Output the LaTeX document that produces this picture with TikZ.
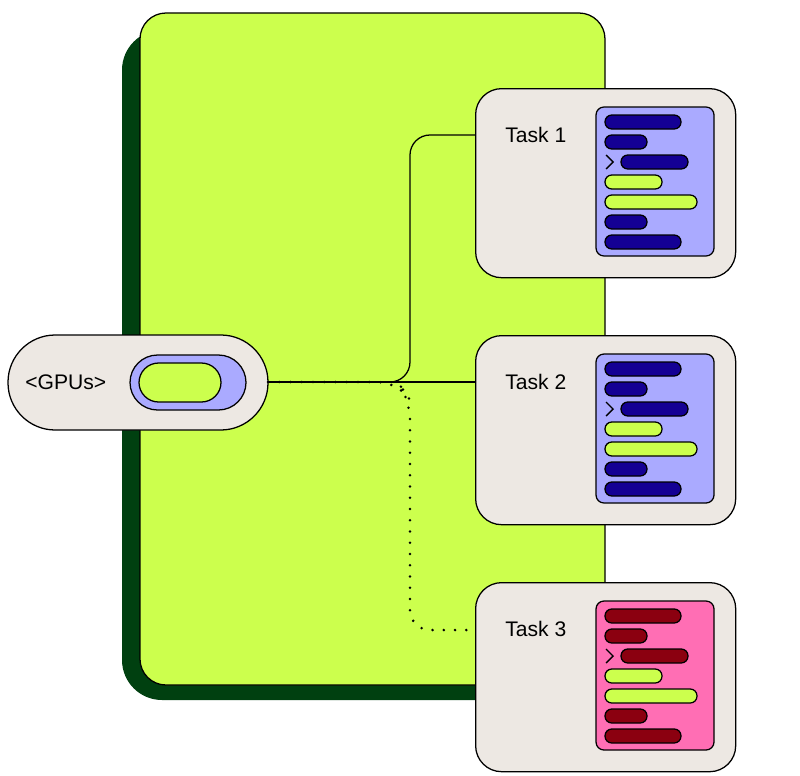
\documentclass[tikz,border=0pt]{standalone}
\usepackage{fontspec}
\setmainfont{Liberation Sans}
\usetikzlibrary{positioning}
\definecolor{lime}{HTML}{CCFF4D}
\definecolor{forest}{HTML}{004010}
\definecolor{paper}{HTML}{EDE8E3}
\definecolor{lilac}{HTML}{AAAAFF}
\definecolor{navy}{HTML}{140094}
\definecolor{rose}{HTML}{FF6EB4}
\definecolor{wine}{HTML}{8B0010}
\tikzset{
  card/.style={draw,fill=paper,rounded corners=0.65cm,minimum width=6.5cm,
    minimum height=4.725cm,inner sep=0pt},
  bar/.style={draw,rounded corners=0.17cm},
  pill/.style={draw,rounded corners=#1},
  dots/.style={line width=2pt,line cap=round,dash pattern=on 0pt off 8pt}
}
\begin{document}
\begin{tikzpicture}[x=0.025cm,y=-0.025cm,line width=0.9pt,
    every node/.style={font=\fontsize{15}{17}\selectfont}]
  \useasboundingbox (0,0) rectangle (800,775);
  % board
  \fill[forest,rounded corners=1cm](122,30)rectangle(590,700);
  \draw[fill=lime,rounded corners=0.65cm](140,13)rectangle(605,685);
  % gpu pill
  \draw[pill=1.18cm,fill=paper](8,335)rectangle(268,430);
  \node[anchor=west] (gpus) at (20,382.5) {<GPUs>};
  \draw[pill=0.69cm,fill=lilac](130,355)rectangle(246,410);
  \draw[pill=0.49cm,fill=lime](139,363)rectangle(221,402);
  \coordinate (gout) at (268,382);
  % tasks
  \foreach \i/\y/\ink/\back in {1/88/navy/lilac,2/335/navy/lilac,3/582/wine/rose}{
    \node[card,anchor=north west] (t\i) at (475,\y) {};
    \node[anchor=west] (lab\i) at (500,\y+47) {Task \i};
    \begin{scope}[shift={(475,\y)}]
      \draw[fill=\back,rounded corners=0.2cm](121,19)rectangle(239,168);
      \draw[bar,fill=\ink](130,27)rectangle(206,41);
      \draw[bar,fill=\ink](130,47)rectangle(172,61);
      \draw[line width=1pt](131,67)--(138,74)--(131,81);
      \draw[bar,fill=\ink](146,67)rectangle(213,81);
      \draw[bar,fill=lime](130,87)rectangle(187,101);
      \draw[bar,fill=lime](130,107)rectangle(222,121);
      \draw[bar,fill=\ink](130,127)rectangle(172,141);
      \draw[bar,fill=\ink](130,147)rectangle(206,161);
    \end{scope}
  }
  % links
  \coordinate (e1) at (475,135);
  \coordinate (e2) at (475,382);
  \coordinate (e3) at (468,630);
  \draw[rounded corners=0.5cm](gout)--(410,382)--(410,135)--(e1);
  \draw(gout)--(e2);
  \draw[dots,rounded corners=0.5cm](gout)--(398,382)--(410,400)--(410,630)--(e3);
\end{tikzpicture}
\end{document}
